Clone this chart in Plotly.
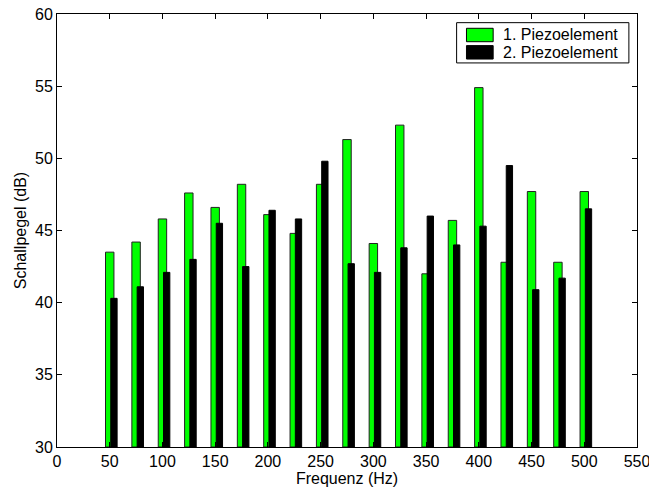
import plotly.graph_objects as go

freq = [50, 75, 100, 125, 150, 175, 200, 225, 250, 275, 300, 325, 350, 375, 400, 425, 450, 475, 500]
piezo1 = [43.5, 44.2, 45.8, 47.6, 46.6, 48.2, 46.1, 44.8, 48.2, 51.3, 44.1, 52.3, 42.0, 45.7, 54.9, 42.8, 47.7, 42.8, 47.7]
piezo2 = [40.3, 41.1, 42.1, 43.0, 45.5, 42.5, 46.4, 45.8, 49.8, 42.7, 42.1, 43.8, 46.0, 44.0, 45.3, 49.5, 40.9, 41.7, 46.5]
names = ["1. Piezoelement", "2. Piezoelement"]
x_ticks = list(range(0, 551, 50))
y_ticks = list(range(30, 61, 5))

fnt = "Liberation Sans, Arial, Helvetica, sans-serif"
FS = 16

fig = go.Figure()
fig.add_trace(go.Bar(x=freq, y=[v - 30 for v in piezo1], base=30, name=names[0],
                     width=8, offset=-4,
                     marker=dict(color="#00ff00", line=dict(color="#222222", width=1))))
fig.add_trace(go.Bar(x=freq, y=[v - 30 for v in piezo2], base=30, name=names[1],
                     width=6, offset=1,
                     marker=dict(color="#000000", line=dict(color="#000000", width=1))))

# manual legend
shapes = [
    dict(type="rect", xref="paper", yref="paper", x0=0.689, x1=0.986, y0=0.887, y1=0.980,
         line=dict(color="black", width=1), fillcolor="white", layer="above"),
    dict(type="rect", xref="paper", yref="paper", x0=0.706, x1=0.752, y0=0.936, y1=0.967,
         line=dict(color="black", width=1), fillcolor="#00ff00", layer="above"),
    dict(type="rect", xref="paper", yref="paper", x0=0.706, x1=0.752, y0=0.896, y1=0.927,
         line=dict(color="black", width=1), fillcolor="#000000", layer="above"),
]
annotations = [
    dict(xref="paper", yref="paper", x=0.766, y=0.952, text=names[0], showarrow=False,
         xanchor="left", yanchor="middle", font=dict(family=fnt, size=FS, color="black")),
    dict(xref="paper", yref="paper", x=0.766, y=0.911, text=names[1], showarrow=False,
         xanchor="left", yanchor="middle", font=dict(family=fnt, size=FS, color="black")),
]

fig.update_layout(
    width=649, height=491,
    margin=dict(l=57, r=12, t=14, b=44),
    paper_bgcolor="white", plot_bgcolor="white",
    barmode="overlay", showlegend=False,
    font=dict(family=fnt, size=FS, color="black"),
    shapes=shapes, annotations=annotations,
    xaxis=dict(range=[0, 550], tickvals=x_ticks, ticks="inside", ticklen=5,
               tickcolor="black", showline=True, linecolor="black", linewidth=1,
               mirror="ticks", showgrid=False, zeroline=False, automargin=False,
               ticklabeloverflow="allow",
               title=dict(text="Frequenz (Hz)", standoff=2, font=dict(size=FS)),
               tickfont=dict(size=FS)),
    yaxis=dict(range=[30, 60], tickvals=y_ticks, ticks="inside", ticklen=5,
               tickcolor="black", showline=True, linecolor="black", linewidth=1,
               mirror="ticks", showgrid=False, zeroline=False, automargin=False,
               ticklabeloverflow="allow",
               title=dict(text="Schallpegel (dB)", standoff=4, font=dict(size=FS)),
               tickfont=dict(size=FS)),
)

fig.write_html("out.html")
